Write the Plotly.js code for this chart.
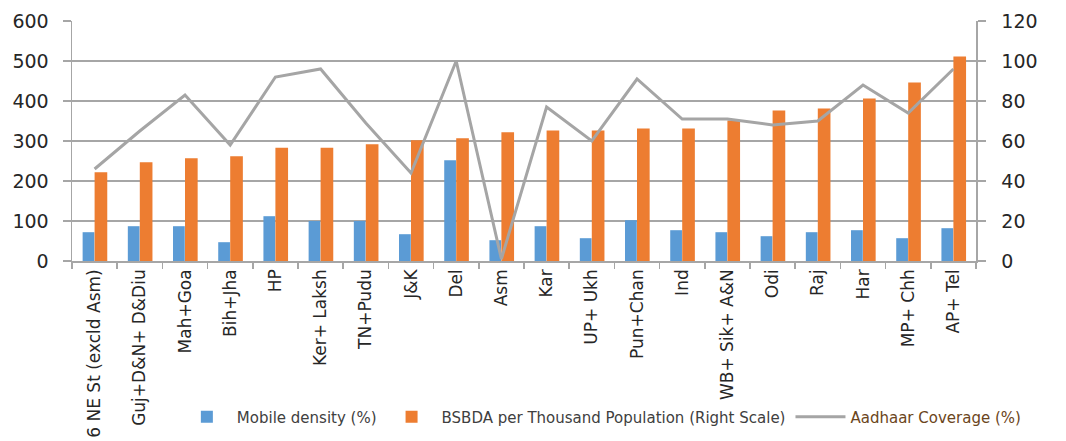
<!DOCTYPE html>
<html>
<head>
<meta charset="utf-8">
<script src="https://cdn.plot.ly/plotly-3.0.1.min.js"></script>
<style>html,body{margin:0;padding:0;background:#fff;}#chart{width:1066px;height:441px;}</style>
</head>
<body>
<div id="chart"></div>
<script>
const categories = ["6 NE St (excld Asm)", "Guj+D&N+ D&Diu", "Mah+Goa", "Bih+Jha", "HP", "Ker+ Laksh", "TN+Pudu", "J&K", "Del", "Asm", "Kar", "UP+ Ukh", "Pun+Chan", "Ind", "WB+ Sik+ A&N", "Odi", "Raj", "Har", "MP+ Chh", "AP+ Tel"];
const mobileDensity = [72, 87, 87, 47, 112, 100, 100, 67, 252, 52, 87, 57, 102, 77, 72, 62, 72, 77, 57, 82];
const bsbdaPerThousand = [44.4, 49.4, 51.4, 52.4, 56.6, 56.6, 58.4, 60.4, 61.4, 64.4, 65.3, 65.3, 66.3, 66.3, 70.3, 75.3, 76.3, 81.3, 89.3, 102.3];
const aadhaarCoverage = [46, 65, 83, 58, 92, 96, 69, 44, 100, 1, 77, 60, 91, 71, 71, 68, 70, 88, 74, 96];
const leftTicks = [0, 100, 200, 300, 400, 500, 600];
const rightTicks = [0, 20, 40, 60, 80, 100, 120];

const FONT = "DejaVu Sans, sans-serif";
const traces = [
  {type: "bar", name: "Mobile density (%)", x: categories, y: mobileDensity, yaxis: "y",
   marker: {color: "#5B9BD5"}, width: 0.26, offset: -0.265, hoverinfo: "x+y"},
  {type: "bar", name: "BSBDA per Thousand Population (Right Scale)", x: categories, y: bsbdaPerThousand, yaxis: "y2",
   marker: {color: "#ED7D31"}, width: 0.28, offset: 0.0, hoverinfo: "x+y"},
  {type: "scatter", mode: "lines", name: '<span style="color:#6b4520">Aadhaar Coverage (%)</span>', x: categories, y: aadhaarCoverage, yaxis: "y2",
   line: {color: "#A5A5A5", width: 3}, hoverinfo: "x+y"}
];

const layout = {
  width: 1066, height: 441,
  margin: {l: 72, r: 90, t: 21, b: 180, autoexpand: false},
  paper_bgcolor: "#ffffff", plot_bgcolor: "#ffffff",
  showlegend: true,
  barmode: "overlay",
  font: {family: FONT, color: "#262626"},
  xaxis: {
    type: "category", tickangle: -90, tickfont: {size: 17, color: "#262626", family: FONT},
    showline: true, linecolor: "#a6a6a6", linewidth: 1.5, automargin: false,
    ticks: "outside", tickson: "boundaries", ticklen: 6, tickcolor: "#a6a6a6", tickwidth: 1.5,
    showgrid: false, fixedrange: true
  },
  yaxis: {
    range: [0, 600], tickvals: leftTicks, ticktext: leftTicks.map(String), automargin: false,
    tickfont: {size: 19, color: "#262626", family: FONT},
    showline: true, linecolor: "#a6a6a6", linewidth: 1.5,
    ticks: "outside", ticklen: 8, tickcolor: "#a6a6a6", tickwidth: 1.5,
    showgrid: true, gridcolor: "#a6a6a6", gridwidth: 1.5, zeroline: false,
    ticklabelstandoff: 10
  },
  yaxis2: {
    range: [0, 120], tickvals: rightTicks, ticktext: rightTicks.map(String), automargin: false,
    overlaying: "y", side: "right",
    tickfont: {size: 19, color: "#262626", family: FONT},
    showline: true, linecolor: "#a6a6a6", linewidth: 1.5,
    ticks: "outside", ticklen: 8, tickcolor: "#a6a6a6", tickwidth: 1.5,
    showgrid: false, zeroline: false,
    ticklabelstandoff: 12
  },
  legend: {
    orientation: "h", x: 0.116, xanchor: "left", y: -0.65, yanchor: "middle",
    font: {size: 15, color: "#404040", family: FONT},
    itemwidth: 50, bgcolor: "rgba(0,0,0,0)", traceorder: "normal"
  }
};

Plotly.newPlot("chart", traces, layout, {displayModeBar: false, staticPlot: true});
</script>
</body>
</html>
